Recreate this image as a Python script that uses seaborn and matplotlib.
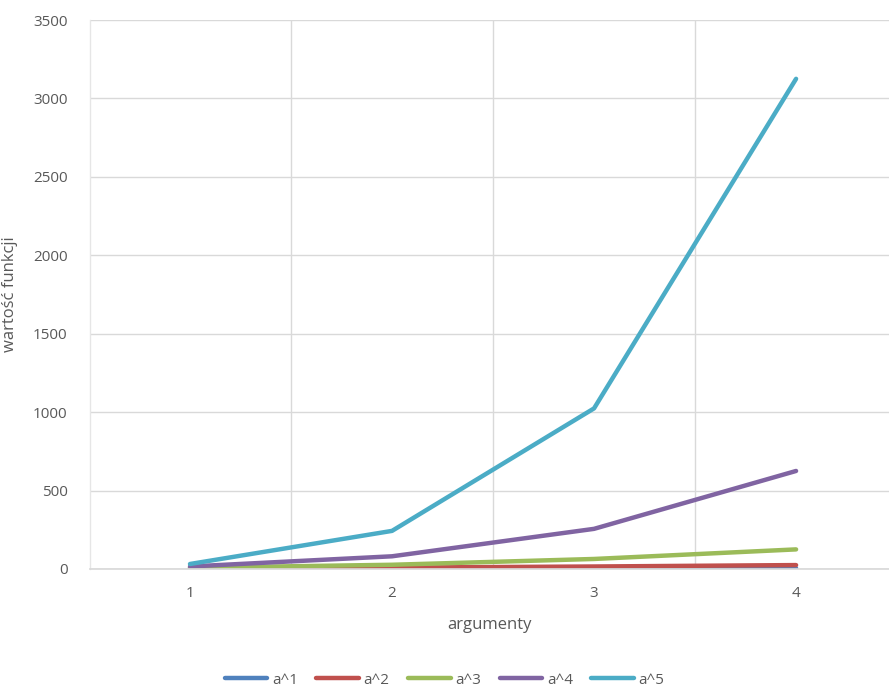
import matplotlib
matplotlib.use("Agg")
import matplotlib.pyplot as plt
import seaborn as sns
import pandas as pd
from matplotlib.lines import Line2D

arguments = [1, 2, 3, 4]
a1 = [2, 3, 4, 5]
a2 = [4, 9, 16, 25]
a3 = [8, 27, 64, 125]
a4 = [16, 81, 256, 625]
a5 = [32, 243, 1024, 3125]
series_names = ["a^1", "a^2", "a^3", "a^4", "a^5"]
colors = ["#4F81BD", "#C0504D", "#9BBB59", "#8064A2", "#4BACC6"]

rows = []
for name, vals in zip(series_names, [a1, a2, a3, a4, a5]):
    for x, v in zip(arguments, vals):
        rows.append({"argumenty": x, "value": v, "series": name})
df = pd.DataFrame(rows)

sns.set_theme(style="white")
plt.rcParams["font.family"] = ["Open Sans", "DejaVu Sans"]

fig = plt.figure(figsize=(8.89, 6.86), dpi=100)
ax = fig.add_axes([90/889, 1-569/686, 1-90/889, (569-20)/686])

sns.lineplot(data=df, x="argumenty", y="value", hue="series", palette=colors,
             linewidth=3.2, ax=ax, legend=False)

ax.set_yticks(range(0, 3501, 500))
ax.set_xticks(arguments)
ax.set_xticks([0.5, 1.5, 2.5, 3.5, 4.5], minor=True)
ax.set_xlim(0.505, 4.46)
ax.set_ylim(0, 3500)
ax.grid(False)
ax.yaxis.grid(True, color="#D9D9D9", linewidth=1)
ax.xaxis.grid(True, which="minor", color="#D9D9D9", linewidth=1)
ax.set_axisbelow(True)
for s in ["top", "right"]:
    ax.spines[s].set_visible(False)
ax.spines["bottom"].set_color("#D9D9D9")
ax.spines["left"].set_color("#E6E6E6")
ax.spines["left"].set_linewidth(1)
ax.tick_params(axis="both", which="both", length=0, labelsize=11, labelcolor="#595959")
ax.tick_params(axis="x", pad=12)
ax.tick_params(axis="y", pad=16)
ax.set_xlabel("argumenty", fontsize=12, color="#595959", labelpad=12)
ax.set_ylabel("wartość funkcji", fontsize=12, color="#595959")
ax.yaxis.set_label_coords(-72/799, 0.5)

handles = [Line2D([0], [0], color=c, linewidth=3.2) for c in colors]
fig.legend(handles, series_names, loc="center", bbox_to_anchor=(0.5, 1-680/686),
           ncol=5, frameon=False, fontsize=11, handlelength=2.8, handletextpad=0.3,
           columnspacing=1.2, labelcolor="#595959")

fig.savefig("out.png", dpi=100)
